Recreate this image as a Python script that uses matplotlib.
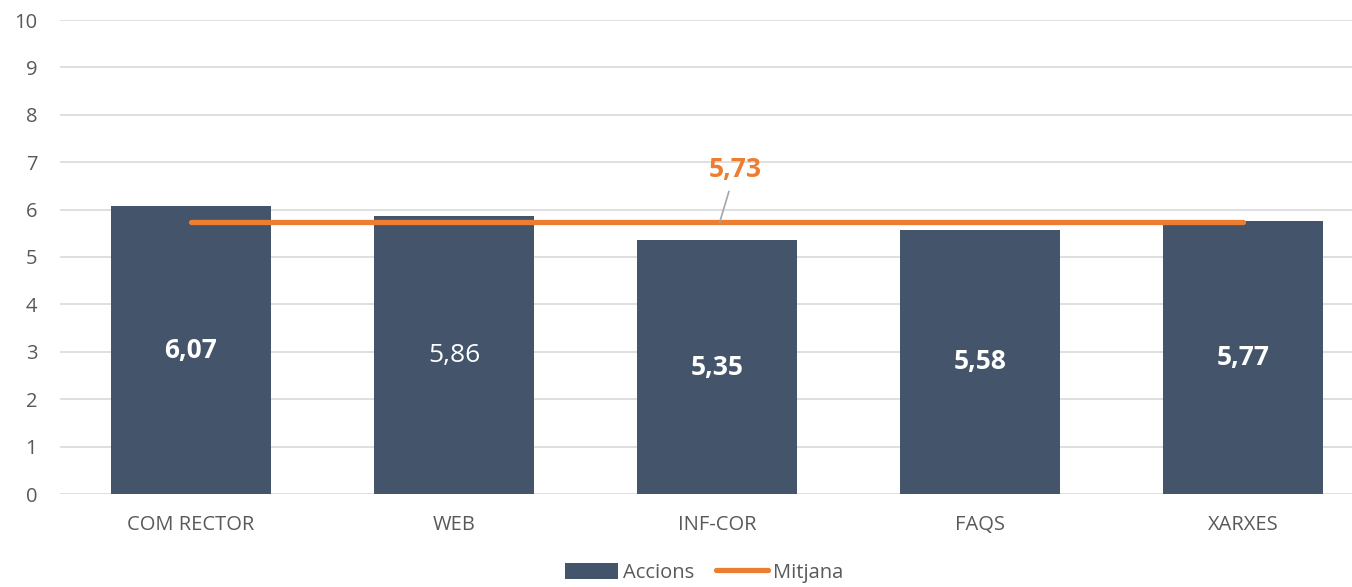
import matplotlib
matplotlib.use("Agg")
import matplotlib.pyplot as plt
import numpy as np

categories = ["COM RECTOR", "WEB", "INF-COR", "FAQS", "XARXES"]
accions = [6.07, 5.86, 5.35, 5.58, 5.77]
mitjana = [5.73, 5.73, 5.73, 5.73, 5.73]
labels = ["6,07", "5,86", "5,35", "5,58", "5,77"]
label_bold = [True, False, True, True, True]
mean_label = "5,73"
yticks = list(range(0, 11))

plt.rcParams['font.family'] = ['Open Sans', 'DejaVu Sans']

fig = plt.figure(figsize=(13.52, 5.87), dpi=100)
ax = fig.add_axes([59.5 / 1352, 93 / 587, 1315 / 1352, 474 / 587])

x = np.arange(len(categories))
bar_color = "#44546A"
orange = "#ED7D31"
hb = ax.bar(x, accions, width=0.61, color=bar_color, zorder=2, label="Accions")
hl, = ax.plot(x, mitjana, color=orange, lw=3.8, solid_capstyle='round', zorder=3, label="Mitjana")

for xi, v, lab, b in zip(x, accions, labels, label_bold):
    ax.text(xi, v / 2, lab, ha='center', va='center', color='white',
            fontsize=19, fontweight='bold' if b else 'normal', zorder=4)

ax.annotate(mean_label, xy=(2.01, mitjana[2]), xytext=(2.07, 6.84),
            ha='center', va='center', color=orange, fontsize=19, fontweight='bold',
            arrowprops=dict(arrowstyle='-', color='#A6A6A6', lw=1.2, shrinkA=4, shrinkB=0))

ax.set_xlim(-0.5, 4.5)
ax.set_ylim(0, 10)
ax.set_yticks(yticks)
ax.set_xticks(x)
ax.set_xticklabels(categories)
ax.yaxis.grid(True, color='#D9D9D9', lw=1.2, zorder=0)
ax.set_axisbelow(True)
for s in ax.spines.values():
    s.set_visible(False)
ax.tick_params(axis='both', length=0, labelsize=14.5, colors='#595959')
ax.tick_params(axis='x', pad=15)
ax.tick_params(axis='y', pad=16)

leg = fig.legend(handles=[hb, hl], labels=["Accions", "Mitjana"], loc='center',
                 bbox_to_anchor=(0.521, 0.024), ncol=2, frameon=False,
                 fontsize=14.5, handlelength=2.6, handleheight=0.85, columnspacing=1.1,
                 handletextpad=0.25, labelcolor='#595959')

fig.savefig("out.png", dpi=100)
